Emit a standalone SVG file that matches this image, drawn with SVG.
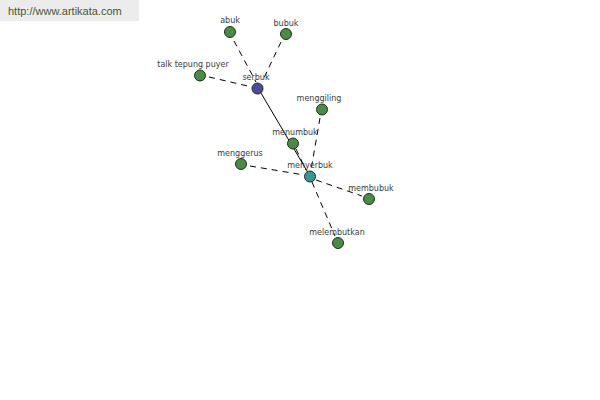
<svg xmlns="http://www.w3.org/2000/svg" width="600" height="400" viewBox="0 0 600 400">
<style>
.lbl{font-family:"DejaVu Sans","Liberation Sans",sans-serif;font-size:8px;fill:#3a3a3a;text-anchor:middle}
.n{stroke:#1e2e1e;stroke-width:1}
.g{fill:#4b8b45}
.d{stroke:#000;stroke-width:1;stroke-dasharray:6,5;fill:none}
.s{stroke:#000;stroke-width:1;fill:none}
</style>
<rect x="0" y="0" width="139" height="21" fill="#ececec"/>
<text x="8" y="15" font-family="Liberation Sans, Arial, sans-serif" font-size="11" fill="#4a5530">http://www.artikata.com</text>
<g id="connectors">
<line class="s" x1="258" y1="88" x2="310" y2="176"/>
<line class="d" x1="234" y1="41" x2="256" y2="82"/>
<line class="d" x1="281" y1="42" x2="262" y2="82"/>
<line class="d" x1="209" y1="77" x2="252" y2="87"/>
<line class="d" x1="320" y1="118" x2="311" y2="170"/>
<line class="d" x1="250" y1="166" x2="304" y2="175"/>
<line class="d" x1="316" y1="180" x2="362" y2="196"/>
<line class="d" x1="312" y1="182" x2="335" y2="236"/>
<line class="d" x1="296" y1="149" x2="306" y2="170"/>
</g>
<g id="abuk"><circle class="n g" cx="230" cy="32" r="5.5"/><text class="lbl" x="230" y="23">abuk</text></g>
<g id="bubuk"><circle class="n g" cx="286" cy="34" r="5.5"/><text class="lbl" x="286" y="26">bubuk</text></g>
<g id="talk"><circle class="n g" cx="200" cy="75.5" r="5.5"/><text class="lbl" x="193" y="67">talk tepung puyer</text></g>
<g id="serbuk"><circle class="n" fill="#4a4aa0" cx="257.5" cy="88.5" r="5.5"/><text class="lbl" x="256" y="80">serbuk</text></g>
<g id="menggiling"><circle class="n g" cx="322" cy="109.5" r="5.5"/><text class="lbl" x="319" y="101">menggiling</text></g>
<g id="menumbuk"><circle class="n g" cx="293" cy="143.5" r="5.5"/><text class="lbl" x="295" y="135">menumbuk</text></g>
<g id="menggerus"><circle class="n g" cx="241" cy="164" r="5.5"/><text class="lbl" x="240" y="156">menggerus</text></g>
<g id="menyerbuk"><circle class="n" fill="#3a9696" cx="310" cy="176.5" r="5.5"/><text class="lbl" x="310" y="168">menyerbuk</text></g>
<g id="membubuk"><circle class="n g" cx="369" cy="199" r="5.5"/><text class="lbl" x="371" y="191">membubuk</text></g>
<g id="melembutkan"><circle class="n g" cx="338" cy="243" r="5.5"/><text class="lbl" x="337" y="235">melembutkan</text></g>
</svg>
